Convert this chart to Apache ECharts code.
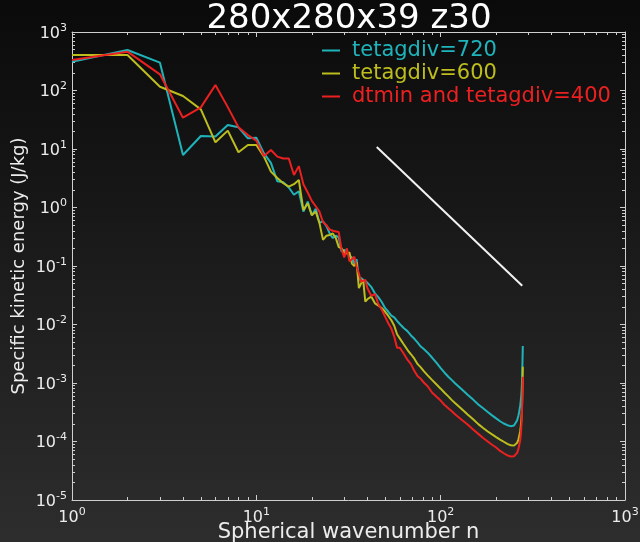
<!DOCTYPE html>
<html>
<head>
<meta charset="utf-8">
<script src="https://cdn.jsdelivr.net/npm/echarts@6/dist/echarts.min.js"></script>
<style>
html, body { margin: 0; padding: 0; background: #000; }
#chart { width: 640px; height: 542px; }
</style>
</head>
<body>
<div id="chart"></div>
<script>
// Spherical wavenumbers at which the spectra are sampled
const wavenumbers = [
  1, 2, 3, 4, 5, 6, 7, 8, 9, 10, 11, 12,
  13, 14, 15, 16, 17, 18, 19, 20, 21, 22, 23, 24, 25, 26, 27, 28, 29, 30,
  31, 32, 33, 34, 35, 36, 37, 38, 39, 40,
  42, 44, 46, 48, 50, 52, 54, 56, 58, 60,
  63, 66, 69, 72, 75, 78, 81, 85, 90, 95, 100,
  105, 110, 115, 120, 130, 140, 150, 160, 170, 180, 190, 200, 210, 220, 230, 240, 250,
  255, 260, 264, 267, 270, 272, 274, 275, 276, 277, 278, 279
];

// Specific kinetic energy (J/kg) for each run
const energyDiv720 = [
  311, 492, 299, 7.9, 16.7, 16.3, 25.7, 23.5, 15.2, 15.6, 8.4, 5.8,
  2.8, 2.7, 2.2, 1.65, 1.9, 0.85, 1.26, 0.74, 0.95, 0.55, 0.58, 0.48, 0.36, 0.30, 0.33, 0.31, 0.176, 0.19,
  0.17, 0.15, 0.14, 0.11, 0.13, 0.058, 0.062, 0.058, 0.055, 0.052,
  0.044, 0.034, 0.029, 0.024, 0.019, 0.0165, 0.0142, 0.0132, 0.0115, 0.0102,
  0.0087, 0.0077, 0.0065, 0.0057, 0.0049, 0.0042, 0.0038, 0.0033, 0.0027, 0.0022, 0.0018,
  0.0015, 0.00128, 0.00112, 0.00098, 0.00078, 0.00063, 0.00052, 0.00043, 0.00037, 0.00032, 0.00028, 0.000248, 0.000222, 0.000203, 0.00019, 0.000183, 0.000188,
  0.000202, 0.00023, 0.000275, 0.00033, 0.00041, 0.0005, 0.00064, 0.00077, 0.001, 0.0015, 0.0025, 0.0043
];

const energyDiv600 = [
  405, 405, 116, 80.5, 47.6, 13, 20.6, 8.8, 11.7, 11.7, 7.4, 4.1,
  3.2, 2.6, 2.27, 2.5, 2.95, 0.90, 1.18, 0.74, 0.85, 0.54, 0.28, 0.33, 0.34, 0.36, 0.30, 0.21, 0.20, 0.17,
  0.164, 0.17, 0.11, 0.10, 0.115, 0.042, 0.05, 0.058, 0.0245, 0.027,
  0.030, 0.023, 0.021, 0.019, 0.0165, 0.014, 0.0118, 0.0095, 0.0068, 0.0058,
  0.0046, 0.0037, 0.0031, 0.0026, 0.0021, 0.00185, 0.0016, 0.00135, 0.00112, 0.00094, 0.00080,
  0.00068, 0.00059, 0.00051, 0.00045, 0.00036, 0.00029, 0.00024, 0.000198, 0.00017, 0.000148, 0.000132, 0.000119, 0.000108, 0.000099, 0.000091, 0.000086, 0.000085,
  0.000088, 0.000095, 0.000108, 0.000125, 0.00015, 0.00018, 0.00024, 0.00029, 0.00037, 0.00055, 0.0009, 0.0019
];

const energyDiv400Dtmin = [
  332, 461, 189, 34.3, 51.5, 124, 52, 23.5, 17.3, 13.9, 7.6, 9.6,
  7.4, 6.9, 6.9, 3.6, 5.1, 2.5, 1.8, 1.3, 1.05, 0.85, 0.56, 0.50, 0.42, 0.40, 0.39, 0.38, 0.19, 0.14,
  0.2, 0.12, 0.13, 0.144, 0.097, 0.075, 0.054, 0.056, 0.058, 0.042,
  0.031, 0.033, 0.022, 0.0177, 0.0135, 0.0105, 0.0085, 0.0062, 0.0040, 0.0040,
  0.0032, 0.0025, 0.0021, 0.0016, 0.0013, 0.00118, 0.00102, 0.00088, 0.00068, 0.00058, 0.00050,
  0.00042, 0.00037, 0.00033, 0.00029, 0.000235, 0.000195, 0.00016, 0.000135, 0.000115, 0.0001, 0.000088, 0.000079, 0.000069, 0.000063, 0.000058, 0.0000555, 0.000056,
  0.000058, 0.000064, 0.000074, 0.000088, 0.000105, 0.00013, 0.00018, 0.00022, 0.0003, 0.00045, 0.00075, 0.00128
];

// n^-3 reference slope
const slopeRefN = [45, 277];
const slopeRefE = [10.8, 0.046];

const seriesNames = ['tetagdiv=720', 'tetagdiv=600', 'dtmin and tetagdiv=400'];
const seriesColors = ['#1fb4bb', '#bdbd1e', '#ec2020'];

const xMajorTicks = [1, 10, 100, 1000];
const yMajorTicks = [1e-5, 1e-4, 1e-3, 1e-2, 1e-1, 1, 10, 100, 1000];

// 2..9 sub-decade positions for the minor ticks
function minorTicks(lo, hi) {
  const out = [];
  for (let k = lo; k < hi; k++) {
    for (let m = 2; m <= 9; m++) out.push(Number((m * Math.pow(10, k)).toPrecision(3)));
  }
  return out;
}
const xMinorTicks = minorTicks(0, 3);
const yMinorTicks = minorTicks(-5, 3);

const FONT = 'DejaVu Sans';
const FRAME = '#cfcfcf';
const TEXT = '#ececec';

function zip(xs, ys) { return xs.map((x, i) => [x, ys[i]]); }

function powerLabel(v) {
  const e = Math.round(Math.log10(v));
  return '{b|10}{s|' + e + '}';
}
const powerRich = {
  b: { fontSize: 16, fontFamily: FONT, color: TEXT, lineHeight: 19, verticalAlign: 'bottom' },
  s: { fontSize: 11, fontFamily: FONT, color: TEXT, lineHeight: 19, verticalAlign: 'top' }
};

function frameAxis(kind, pos, ticks, tickLen, showLine, label, extra) {
  const isX = kind === 'x';
  const ax = {
    type: 'log', logBase: 10,
    min: isX ? 1 : 1e-5, max: 1000,
    position: pos,
    gridIndex: 0,
    axisLine: { show: showLine, onZero: false, lineStyle: { color: FRAME, width: 1 } },
    axisTick: { show: true, inside: true, length: tickLen, customValues: ticks, lineStyle: { color: FRAME, width: 1 } },
    axisLabel: label ? Object.assign({ show: true, customValues: ticks, formatter: powerLabel, rich: powerRich }, label) : { show: false },
    splitLine: { show: false },
    minorTick: { show: false },
    minorSplitLine: { show: false }
  };
  return Object.assign(ax, extra || {});
}

const chart = echarts.init(document.getElementById('chart'), null, { renderer: 'canvas' });

chart.setOption({
  animation: false,
  backgroundColor: {
    type: 'linear', x: 0, y: 0, x2: 0, y2: 1,
    colorStops: [
      { offset: 0, color: '#0a0a0a' },
      { offset: 1, color: '#2d2d2d' }
    ]
  },
  grid: { left: 72, right: 15, top: 32, bottom: 42, containLabel: false, outerBoundsMode: 'none' },
  graphic: [{
    type: 'text',
    x: 349, y: 19,
    style: {
      text: '280x280x39 z30',
      fill: '#ffffff',
      font: '34px "DejaVu Sans"',
      align: 'center',
      verticalAlign: 'middle'
    }
  }],
  legend: {
    data: seriesNames.map((n, i) => ({ name: n, textStyle: { color: seriesColors[i] } })),
    orient: 'vertical',
    left: 317, top: 35,
    itemWidth: 18, itemHeight: 2, itemGap: 2,
    icon: 'rect',
    textStyle: { fontSize: 21, fontFamily: FONT, padding: [0, 0, 0, 7] }
  },
  xAxis: [
    frameAxis('x', 'bottom', xMajorTicks, 5, true, { margin: 7 }, {
      name: 'Spherical wavenumber n', nameLocation: 'middle', nameGap: 22, nameMoveOverlap: false,
      nameTextStyle: { fontSize: 21, fontFamily: FONT, color: TEXT }
    }),
    frameAxis('x', 'bottom', xMinorTicks, 3, false, null),
    frameAxis('x', 'top', xMajorTicks, 5, true, null),
    frameAxis('x', 'top', xMinorTicks, 3, false, null)
  ],
  yAxis: [
    frameAxis('y', 'left', yMajorTicks, 5, true, { margin: 5 }, {
      name: 'Specific kinetic energy (J/kg)', nameLocation: 'middle', nameGap: 44, nameRotate: 90, nameMoveOverlap: false,
      nameTextStyle: { fontSize: 18, fontFamily: FONT, color: TEXT }
    }),
    frameAxis('y', 'left', yMinorTicks, 3, false, null),
    frameAxis('y', 'right', yMajorTicks, 5, true, null),
    frameAxis('y', 'right', yMinorTicks, 3, false, null)
  ],
  series: [
    {
      name: seriesNames[0], type: 'line', xAxisIndex: 0, yAxisIndex: 0,
      data: zip(wavenumbers, energyDiv720),
      showSymbol: false, symbol: 'none',
      lineStyle: { color: seriesColors[0], width: 2 }, itemStyle: { color: seriesColors[0] }
    },
    {
      name: seriesNames[1], type: 'line', xAxisIndex: 0, yAxisIndex: 0,
      data: zip(wavenumbers, energyDiv600),
      showSymbol: false, symbol: 'none',
      lineStyle: { color: seriesColors[1], width: 2 }, itemStyle: { color: seriesColors[1] }
    },
    {
      name: seriesNames[2], type: 'line', xAxisIndex: 0, yAxisIndex: 0,
      data: zip(wavenumbers, energyDiv400Dtmin),
      showSymbol: false, symbol: 'none',
      lineStyle: { color: seriesColors[2], width: 2 }, itemStyle: { color: seriesColors[2] }
    },
    {
      name: 'slope', type: 'line', xAxisIndex: 0, yAxisIndex: 0,
      data: zip(slopeRefN, slopeRefE),
      showSymbol: false, symbol: 'none',
      lineStyle: { color: '#f2f2f2', width: 2 }
    }
  ]
});
</script>
</body>
</html>
